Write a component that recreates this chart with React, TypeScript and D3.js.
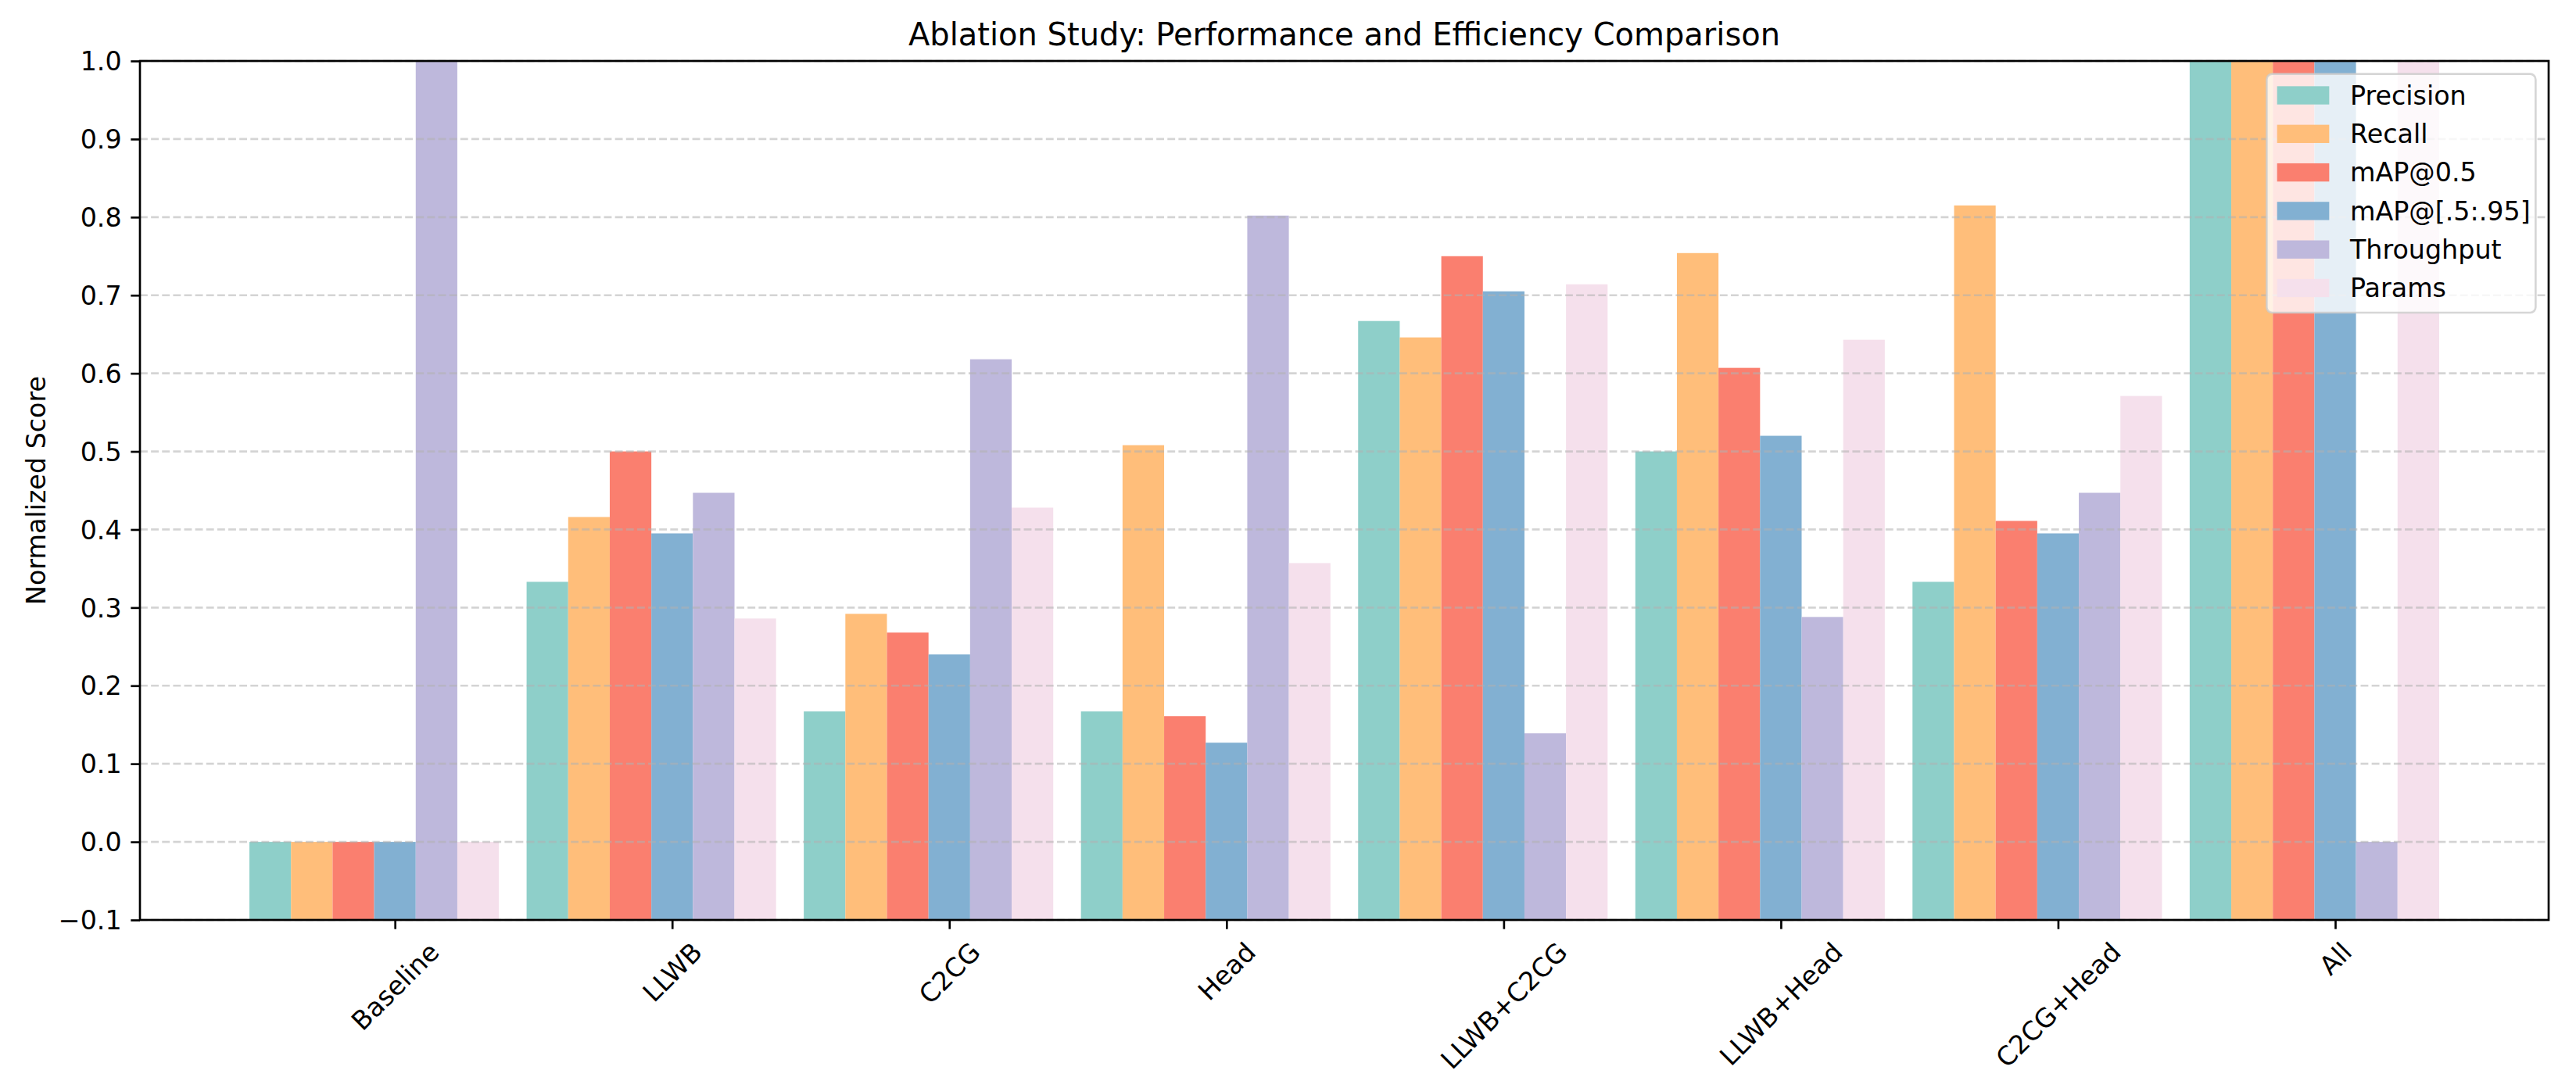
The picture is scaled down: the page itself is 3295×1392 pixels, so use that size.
import React, { useEffect, useRef } from "react";
import * as d3 from "d3";

const categories = ["Baseline", "LLWB", "C2CG", "Head", "LLWB+C2CG", "LLWB+Head", "C2CG+Head", "All"];
const metrics = ["Precision", "Recall", "mAP@0.5", "mAP@[.5:.95]", "Throughput", "Params"];
const colors = ["#8ECFC9", "#FFBE7A", "#FA7F6F", "#82B0D2", "#BEB8DC", "#F5E0EC"];

const precision = [0, 0.333, 0.167, 0.167, 0.667, 0.5, 0.333, 1];
const recall = [0, 0.416, 0.292, 0.508, 0.646, 0.754, 0.815, 1];
const map50 = [0, 0.5, 0.268, 0.161, 0.75, 0.607, 0.411, 1];
const map5095 = [0, 0.395, 0.24, 0.127, 0.705, 0.52, 0.395, 1];
const throughput = [1, 0.447, 0.618, 0.802, 0.139, 0.288, 0.447, 0];
const params = [0, 0.286, 0.428, 0.357, 0.714, 0.643, 0.571, 1];

const yTicks = [-0.1, 0, 0.1, 0.2, 0.3, 0.4, 0.5, 0.6, 0.7, 0.8, 0.9, 1.0];

const App: React.FC = () => {
  const ref = useRef<SVGSVGElement>(null);

  useEffect(() => {
    const width = 3295;
    const height = 1392;
    const pt = 3.333; // px per point
    const fs = 10 * pt;
    const left = 179, right = 3260, top = 78, bottom = 1177;
    const barW = 0.15;
    const series = [precision, recall, map50, map5095, throughput, params];

    const svg = d3.select(ref.current);
    svg.selectAll("*").remove();
    svg.attr("width", width).attr("height", height);

    const lo = -3 * barW - barW / 2;
    const hi = categories.length - 1 + 2 * barW + barW / 2;
    const pad = (hi - lo) * 0.05;
    const x = d3.scaleLinear().domain([lo - pad, hi + pad]).range([left, right]);
    const y = d3.scaleLinear().domain([-0.1, 1.0]).range([bottom, top]);

    svg.append("rect").attr("width", width).attr("height", height).attr("fill", "#fff");

    // bars
    series.forEach((vals, k) => {
      svg.append("g")
        .selectAll("rect")
        .data(vals)
        .enter()
        .append("rect")
        .attr("x", (_d, i) => x(i + (k - 3) * barW - barW / 2))
        .attr("width", x(barW) - x(0))
        .attr("y", (d) => y(d))
        .attr("height", (d) => y(-0.1) - y(d))
        .attr("fill", colors[k]);
    });

    // grid
    svg.append("g")
      .selectAll("line")
      .data(yTicks)
      .enter()
      .append("line")
      .attr("x1", left)
      .attr("x2", right)
      .attr("y1", (d) => y(d))
      .attr("y2", (d) => y(d))
      .attr("stroke", "#b0b0b0")
      .attr("stroke-opacity", 0.55)
      .attr("stroke-width", 0.8 * pt)
      .attr("stroke-dasharray", `${3.7 * 0.8 * pt} ${1.6 * 0.8 * pt}`);

    // y axis
    const yAxis = svg.append("g")
      .attr("transform", `translate(${left},0)`)
      .call(
        d3.axisLeft(y)
          .tickValues(yTicks)
          .tickFormat(d3.format(".1f") as any)
          .tickSize(3.5 * pt)
          .tickPadding(3.5 * pt)
      );
    yAxis.select(".domain").remove();
    yAxis.selectAll("line").attr("stroke", "#000").attr("stroke-width", 0.8 * pt);
    yAxis.selectAll("text")
      .attr("font-family", "DejaVu Sans")
      .attr("font-size", fs)
      .attr("fill", "#000")
      .attr("dy", "0.35em");

    // x axis
    const xAxis = svg.append("g")
      .attr("transform", `translate(0,${bottom})`)
      .call(
        d3.axisBottom(x)
          .tickValues(d3.range(categories.length))
          .tickFormat((i: any) => categories[i])
          .tickSize(3.5 * pt)
          .tickPadding(0)
      );
    xAxis.select(".domain").remove();
    xAxis.selectAll("line").attr("stroke", "#000").attr("stroke-width", 0.8 * pt);
    const y0 = 7 * pt;
    xAxis.selectAll<SVGTextElement, number>("text")
      .attr("font-family", "DejaVu Sans")
      .attr("font-size", fs)
      .attr("fill", "#000")
      .attr("text-anchor", "middle")
      .attr("dominant-baseline", "central")
      .attr("dy", null)
      .attr("y", 0)
      .each(function () {
        const w = this.getComputedTextLength();
        const h = fs * 1.0;
        const H = (w + h) / Math.SQRT2;
        d3.select(this).attr("transform", `translate(0,${y0 + H / 2}) rotate(-45)`);
      });

    // spines
    svg.append("rect")
      .attr("x", left)
      .attr("y", top)
      .attr("width", right - left)
      .attr("height", bottom - top)
      .attr("fill", "none")
      .attr("stroke", "#000")
      .attr("stroke-width", 0.8 * pt);

    // title
    svg.append("text")
      .attr("x", (left + right) / 2)
      .attr("y", top - 6 * pt)
      .attr("text-anchor", "middle")
      .attr("font-family", "DejaVu Sans")
      .attr("font-size", 12 * pt)
      .attr("fill", "#000")
      .text("Ablation Study: Performance and Efficiency Comparison");

    // y label
    svg.append("text")
      .attr("transform", `translate(58,${(top + bottom) / 2}) rotate(-90)`)
      .attr("text-anchor", "middle")
      .attr("font-family", "DejaVu Sans")
      .attr("font-size", fs)
      .attr("fill", "#000")
      .text("Normalized Score");

    // legend
    const lgLeft = right - 0.5 * fs - 344;
    const lgRight = right - 0.5 * fs;
    const lgTop = top + 0.5 * fs;
    const lgBottom = 400;
    const legend = svg.append("g");
    legend.append("rect")
      .attr("x", lgLeft)
      .attr("y", lgTop)
      .attr("width", lgRight - lgLeft)
      .attr("height", lgBottom - lgTop)
      .attr("rx", 7)
      .attr("fill", "#fff")
      .attr("fill-opacity", 0.8)
      .attr("stroke", "#cccccc")
      .attr("stroke-opacity", 0.8)
      .attr("stroke-width", 0.8 * pt);
    const rowY = d3.scaleLinear().domain([0, metrics.length - 1]).range([122, 368.5]);
    const rows = legend.selectAll("g.row")
      .data(metrics)
      .enter()
      .append("g")
      .attr("class", "row")
      .attr("transform", (_d, i) => `translate(0,${rowY(i)})`);
    rows.append("rect")
      .attr("x", lgLeft + 0.4 * fs)
      .attr("y", -0.35 * fs)
      .attr("width", 2 * fs)
      .attr("height", 0.7 * fs)
      .attr("fill", (_d, i) => colors[i]);
    rows.append("text")
      .attr("x", lgLeft + 0.4 * fs + 2 * fs + 0.8 * fs)
      .attr("dy", "0.35em")
      .attr("font-family", "DejaVu Sans")
      .attr("font-size", fs)
      .attr("fill", "#000")
      .text((d) => d);
  }, []);

  return (
    <svg
      ref={ref}
      width={3295}
      height={1392}
      style={{ position: "absolute", left: 0, top: 0, display: "block" }}
    />
  );
};

export default App;
